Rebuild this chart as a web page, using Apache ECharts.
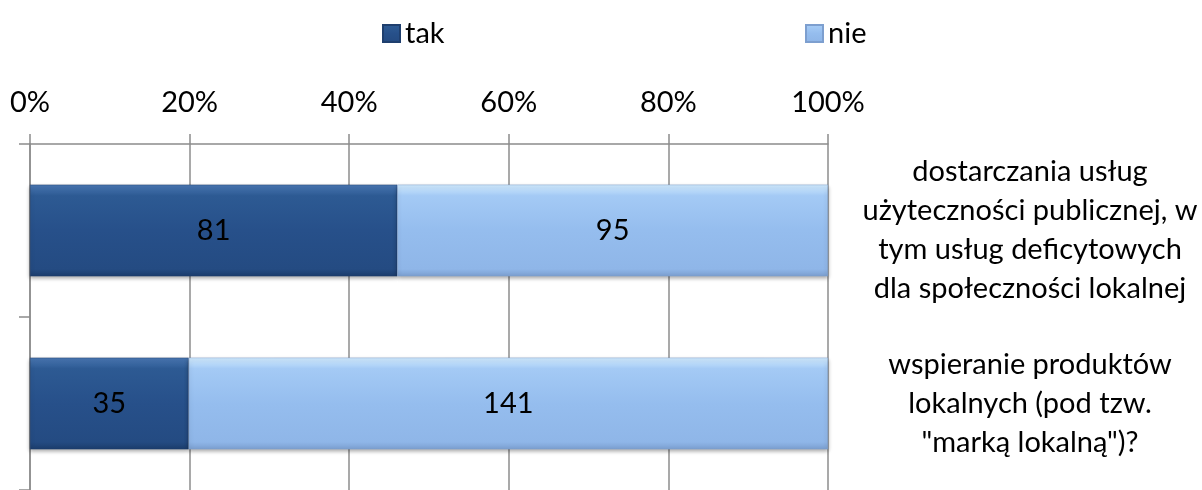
<!DOCTYPE html>
<html>
<head>
<meta charset="utf-8">
<script src="https://cdn.jsdelivr.net/npm/echarts@6/dist/echarts.min.js"></script>
<style>
html,body{margin:0;padding:0;background:#fff;}
#chart{width:1202px;height:490px;}
</style>
</head>
<body>
<div id="chart"></div>
<script>
const categories = [
  'dostarczania usług\nużyteczności publicznej, w\ntym usług deficytowych\ndla społeczności lokalnej',
  'wspieranie produktów\nlokalnych (pod tzw.\n"marką lokalną")?'
];
const seriesNames = ['tak', 'nie'];
const takValues = [81, 35];
const nieValues = [95, 141];
const tickValues = [0, 20, 40, 60, 80, 100];

const totals = takValues.map((v, i) => v + nieValues[i]);
const takPct = takValues.map((v, i) => v / totals[i] * 100);
const niePct = nieValues.map((v, i) => v / totals[i] * 100);

const FONT = 'Lato';
const FS = 29;

const darkGrad = new echarts.graphic.LinearGradient(0, 0, 0, 1, [
  {offset: 0, color: '#4a78b4'},
  {offset: 0.12, color: '#2d5a93'},
  {offset: 0.5, color: '#27508a'},
  {offset: 0.92, color: '#244b82'},
  {offset: 1, color: '#1c3d6c'}
]);
const lightGrad = new echarts.graphic.LinearGradient(0, 0, 0, 1, [
  {offset: 0, color: '#d2ecff'},
  {offset: 0.12, color: '#a4caf5'},
  {offset: 0.5, color: '#95bdee'},
  {offset: 0.92, color: '#8fb6e8'},
  {offset: 1, color: '#7b9fd0'}
]);

const chart = echarts.init(document.getElementById('chart'));
chart.setOption({
  animation: false,
  textStyle: {fontFamily: FONT},
  legend: [
    {
      data: [seriesNames[0]], left: 377, top: 14,
      itemWidth: 17, itemHeight: 17, icon: 'rect',
      textStyle: {fontFamily: FONT, fontSize: FS, color: '#000'}
    },
    {
      data: [seriesNames[1]], left: 800, top: 14,
      itemWidth: 17, itemHeight: 17, icon: 'rect',
      textStyle: {fontFamily: FONT, fontSize: FS, color: '#000'}
    }
  ],
  grid: {left: 30, right: 374, top: 144, bottom: -4, containLabel: false},
  xAxis: {
    type: 'value', position: 'top', min: tickValues[0], max: tickValues[tickValues.length - 1], interval: 20,
    axisLine: {show: true, lineStyle: {color: '#8c8c8c', width: 1.5}},
    axisTick: {show: true, length: 10, lineStyle: {color: '#8c8c8c', width: 1.5}},
    axisLabel: {formatter: '{value}%', fontFamily: FONT, fontSize: FS, color: '#000', margin: 27},
    splitLine: {show: true, lineStyle: {color: '#8c8c8c', width: 1.5}}
  },
  yAxis: [
    {
      type: 'category', data: categories, inverse: true, position: 'left',
      axisLine: {show: true, lineStyle: {color: '#8c8c8c', width: 1.5}},
      axisTick: {show: true, length: 11, lineStyle: {color: '#8c8c8c', width: 1.5}},
      axisLabel: {show: false}
    },
    {
      type: 'category', data: categories, inverse: true, position: 'right',
      axisLine: {show: false}, axisTick: {show: false},
      axisLabel: {show: true, align: 'center', margin: 202, fontFamily: FONT, fontSize: FS, lineHeight: 39, color: '#000'}
    }
  ],
  series: [
    {
      name: seriesNames[0], type: 'bar', stack: 'total', barWidth: '53%',
      data: takPct,
      itemStyle: {color: darkGrad, borderColor: '#1f3f6e', borderWidth: 0.5,
        shadowColor: 'rgba(0,0,0,0.35)', shadowBlur: 4, shadowOffsetY: 2},
      label: {show: true, position: 'inside', color: '#000', fontFamily: FONT, fontSize: FS,
        formatter: p => String(takValues[p.dataIndex])}
    },
    {
      name: seriesNames[1], type: 'bar', stack: 'total', barWidth: '53%',
      data: niePct,
      itemStyle: {color: lightGrad, borderColor: '#7d9fcf', borderWidth: 0.5,
        shadowColor: 'rgba(0,0,0,0.35)', shadowBlur: 4, shadowOffsetY: 2},
      label: {show: true, position: 'inside', color: '#000', fontFamily: FONT, fontSize: FS,
        formatter: p => String(nieValues[p.dataIndex])}
    }
  ]
});
</script>
</body>
</html>
